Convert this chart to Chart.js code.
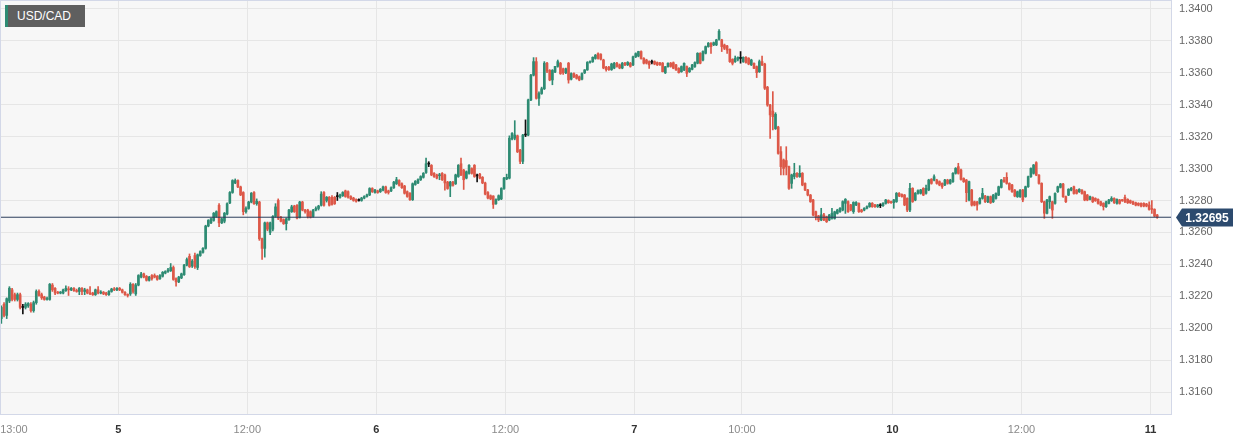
<!DOCTYPE html>
<html lang="en">
<head>
<meta charset="UTF-8">
<title>USD/CAD</title>
<style>
    body {
        margin: 0;
        background: #ffffff;
        font-family: Arial, 'Liberation Sans', sans-serif;
    }
    .wrap {
        position: relative;
        width: 1242px;
        height: 442px;
    }
    .pair {
        position: absolute;
        left: 5px;
        top: 5px;
        width: 80px;
        height: 22px;
        box-sizing: border-box;
        background: #5f5f5f;
        border-left: 3px solid #2e8b73;
        color: #ffffff;
        font-size: 12px;
        line-height: 22px;
        padding-left: 9px;
    }
</style>
</head>
<body>
<div class="wrap">
    <canvas id="chart" width="1242" height="442"></canvas>
    <div class="pair">USD/CAD</div>
</div>

<script src="https://cdn.jsdelivr.net/npm/chart.js"></script>
<script>
// 15 minute candles, prices in pips above 1.3000
const BASE = 1.3;

const opens = [
    206,215,208,217,224,221,218,221,213,213,            // 0
    214,215,211,216,223,221,219.5,218,218,227,
    225,222.5,222,222,223.5,224.5,224,225,223.5,223,
    225,223,224,222,222,221,224,222,222.5,222,
    221,223,224.5,224,225,224,222.5,221,221.5,227.5,
    221.5,227,232,234,232.5,230,233,233,232.5,231,
    232.5,234.5,235.5,236,238,231,229,231.5,233.5,239.5,
    245,239,245.5,238,245.5,247.5,250,264,266,267.5,
    270,277,266,267,271.5,278.5,285,291,292.5,288.5,
    285,273,275,279,285,278,279,256,250,266,            // 90
    260,262,270,280,269.5,268,265.5,268,273,276.5,
    277,269.5,279,274,274,273,270,274,275,277,
    285,280,282,282,282,282.4,282,283,286,285.5,
    282.5,281.5,280.5,280,280,281.5,282.5,283.5,287.5,285,
    286,285.5,286.5,288.5,286,286,288,290.5,292.5,290.5,
    289,285.5,284.5,280.5,290,291,293,294.5,297.5,302.8,
    302,297,296,295.5,297,296,291.5,289,291.5,290.5,
    295,303,299,294,297,300,302,295.4,
    296.5,294.5,291,285,283,282.8,278,280.5,281,287.5,  // 178
    293.5,294,318.5,319,320.5,311.5,304.5,321,321,343,
    358.5,367,344,347,350,366,361.5,355.5,360.5,364,
    366,362.5,360,366,356,359.5,358.5,357.5,356,360,
    361.8,366.5,367,369,372,371.5,368,363.5,363.5,362,
    363,366,365,363,366,365,366,365,370,370.5,
    373.3,369,368,367,366.6,367,366.4,366.2,366,360,
    363.8,366,366.3,364.9,362.8,360.7,361.8,363.9,360.7,362.2,
    363.9,366,372.2,368,372.2,376.4,378.5,377.5,377.5,381,
    380.6,377.4,376.8,374.7,368.4,367,368.4,369,367,369.7,  // 268
    369.1,365,365.9,363.9,360.7,367,365.5,351,339.8,336,
    325,326,310.6,305.4,305,301.2,290.7,295,297,295,
    297,290.7,286.6,283.4,280.3,273,270.3,267.8,271,269.8,
    267.8,268.8,268.8,271.9,273,274,278.2,279.3,277.2,273,
    277.2,278.2,274,274,275.1,276.1,278.2,277.2,276.1,276.7,
    276.7,278.2,280,279.3,278.6,279.3,284.5,283.8,283.4,281.3,
    274,287.6,280.3,284.5,284.5,287.6,284.5,286.6,293.3,292.8,
    292.8,291.8,290.7,289.7,292.8,290.7,291.8,297,301.2,299.1,
    293.8,292.8,280.3,286.5,279.2,279,278.2,281.3,282.8,279.2,  // 358
    282.4,279.2,281.3,283.4,288.2,292.8,294.5,290.7,289.7,286.5,
    282.4,282.4,286.5,282.4,288.6,294.9,297,303.7,295.9,290.7,
    279.2,272,279.2,279.2,278.2,285.5,288.2,290.3,282.4,283.4,
    286.5,288.6,286.5,285.5,286.5,285.5,283.4,280.7,281.9,281.3,
    280.7,279.2,278.2,276.1,278.2,279.9,281.3,278.2,280.3,280.3,
    281.9,280.7,279.9,279.2,278.6,278.2,278.2,278.2,277.8,277.1,
    275,274.4,270.9
];

const highs = [
    214,216,219,226,225,222,222,222,215,216,            // 0
    216,216,217,224,224,222,220,219.5,228,228,
    225.5,223,223,224.5,226.5,226,225.5,225.5,224.5,225.5,
    225.5,225,224.5,226,222.5,224.5,226,223.5,223,222.5,
    223.5,225,225.5,225.5,225.5,224.5,223,221.5,228.5,228,
    228,233.5,235,234.5,233,232.5,233.5,234,233,233.5,
    235.5,236,237.5,240.5,239,231.5,232.5,234.5,240,244,
    246.5,243,247,246.5,248.5,250.5,264.5,268,269,272.5,
    273.5,278,269,272.5,278.5,285.5,293,293.5,293,289,
    285.5,276,279.5,285,285.5,281,279.5,256.5,266.5,266.5,  // 90
    266.5,270.5,278,281,270,268.5,269,274.5,277,277,
    277.5,279.5,279.5,274.5,274.5,273.5,274.5,276,277,285.5,
    285.5,282.5,282.5,283,282.5,285,284,285.5,286.5,286,
    283,282,281,281,282,283,284,288,288,287,
    286.5,287.5,289,289,286.5,288.5,292,294.5,293,291,
    289.5,286,285,291,292.5,293.5,295.5,297.5,306.5,304.3,
    302.5,297.5,296.5,297,297.5,296.5,292,292,292,296.5,
    302.5,306.5,299.5,298.5,302.5,300.5,302.5,296.5,
    297,295,291.5,285.5,283.5,283,281,283.5,288,294.5,  // 178
    296.5,320.5,322.5,330,321,312,321.5,330.5,343.5,359,
    369.5,369.5,348,351,367,366.5,362,362,364,368,
    366.5,363,363,366.5,360,360,359,358,360,362,
    367,367.5,370,371.5,372.5,372,368.5,364,364,366,
    366.5,366.5,365.5,366.5,366.5,367,366.5,370.5,372.5,373.5,
    373.8,369.5,368.5,367.5,368,367.5,366.8,366.6,366.5,364,
    366.2,366.5,366.8,365.3,363.2,364.3,366.3,364.3,363.3,365.3,
    366.8,372.6,372.6,373.7,376.8,379,379,379.3,381,387,
    381,378,377.2,375,368.8,370.5,370,373.3,370,370.2,  // 268
    369.5,368.5,366.3,364.3,368,370.5,366,351.5,340.3,348.2,
    335,326.5,313.7,306,313.7,301.6,296.5,303.3,297.5,301.8,
    297.5,291.1,287,283.8,280.7,273.4,270.7,275.1,272,270.2,
    271.3,275.1,273.3,274.5,275.5,279.8,281.2,279.8,277.6,279.2,
    279.3,278.6,274.5,275.5,276.6,278.7,278.7,277.6,277.6,278,
    278.7,280.7,280.4,279.7,280.7,285,284.9,284.2,283.8,281.7,
    290.7,288,285,286.6,287,288,289.7,293.3,293.7,296,
    293.3,292.3,291.1,293.3,293.3,293.3,297.5,300.6,303.3,299.6,
    294.2,293.2,292.2,287,279.6,279.4,281.8,287.6,283.2,282.8,  // 358
    282.8,283.8,284.8,289,293.2,294.5,297.4,291.1,290.1,286.9,
    285.9,286.9,287,289,295.3,300.5,302.6,304.3,296.3,291.1,
    279.6,280.7,282.8,279.6,284.8,289,290.7,290.7,282.8,287.4,
    288.2,289,286.9,287.4,286.9,285.9,283.8,282.8,282.3,281.7,
    281.1,279.6,278.6,279.6,280.7,282.4,281.7,281.1,280.7,280.7,
    283.4,281.1,280.3,279.6,279,278.6,278.6,278.6,278.2,279.2,
    279.9,274.8,271.3
];

const lows = [
    203,207,206,216,217,217,217,212,209,212,            // 0
    213,210,210,215,220,218,217.5,217.5,217.5,223,
    221,221.5,221.5,221.5,223,220.5,223.5,223,222.5,221,
    221,221,221.5,221,220.5,220.5,221.5,221.5,221,220.5,
    220.5,222.5,223.5,223.5,223.5,222,220.5,219.5,220.5,222,
    220.5,226.5,231.5,231.5,229.5,229.5,230,231.5,230,230.5,
    232,234,235,235.5,230,226.3,228.5,231,233,239,
    238,238,237.5,236.7,245,247,249.5,263.5,265.5,267,
    269.5,263.6,265.5,266,271,278,284.5,290.5,288,283,
    271,272,274.5,278.5,277.5,277,255,243,244.5,261,    // 90
    258.5,261,269.5,268,266.5,265,261.5,267.5,272.5,272.5,
    268.5,269,273.5,272,269,269,269.5,273.5,274,276.5,
    276.5,279,276.5,277,277.5,280,281.5,282.5,282,281.5,
    280.5,279.5,279,279.5,279.5,281,282,283,285,284.5,
    284.5,285,286,284.5,284,285.5,287.5,290,289,287.5,
    284,282,280,280,289.5,290.5,292.5,294,297,301.2,
    295.5,294.5,293.5,293,292.5,286.5,287,282.4,289,290,
    294.5,295.5,286.9,293.5,296.5,296.5,294.5,291.7,
    293.5,290.5,283.5,281,280.5,275,277.5,280,280.5,287,  // 178
    293,293.5,318,318,310,303,303,320,320.5,342.5,
    358,343.5,339.5,346.5,349.5,360,355,352.5,360,363.5,
    359,359,359.5,353.5,355.5,357,356,355,355.5,359.5,
    361.5,366,366.5,368.5,368.5,368,362.5,361,361.5,361.5,
    362.5,363.5,362.5,362.5,364.5,364.5,363.5,364.5,369.5,370,
    368.5,365.5,365.5,362.8,365.5,365,364.5,364.6,360.5,359.5,
    363.5,363.5,362.5,361.5,359.8,360.3,361.3,357.6,360.2,361.8,
    363.4,365.6,365.6,367.5,371.8,376,372.2,377,377,380.5,
    373.3,374.5,372.2,366.5,364.9,366.5,367.5,366,366.5,366,  // 268
    365,364.5,362.5,357,360.2,364.5,349.5,339,318.9,324.2,
    324.5,309,296,296,296,287,287.6,293.5,294.5,294.5,
    289.2,286.1,282.9,278.8,270.4,267.8,266.7,267.3,267.3,266.2,
    267.3,268.3,268.3,271.5,272.5,273.5,271.9,272.5,273.5,271.9,
    276.8,272.5,272.5,273.5,274.7,275.7,275.7,275.6,275.6,275.5,
    276.2,277.7,278.2,278.2,275.1,278.8,282.4,282,276.7,273,
    273,278.8,279.8,284,284,283,284,286.1,290.2,292.3,
    290.2,289.2,287.6,289.2,290.2,290.2,291.3,296.5,296.5,292.7,
    291.3,279.2,279.8,276.5,276.6,274,277.7,280.8,278.7,278.7,  // 358
    278.1,278.7,280.8,283,287.8,291.3,290.2,286.5,285,282.3,
    281.9,281.9,279.2,282,288.2,294.5,296.5,295.5,290.2,278.7,
    268.8,271.5,275,268.8,277.7,285,287.8,281.9,278.7,283,
    286,284,284,285,284,279.8,279.8,280.3,278.7,279.4,
    277.7,276.6,274,275.6,277.8,279.4,278.1,277.7,277.7,279.4,
    278.7,278.1,278.1,277.3,276.6,276.6,276,276,276,273.9,
    271.9,269.8,268.8
];

const closes = [
    213,208,218.5,225,218,218,221,213,213,215,          // 0
    215.5,211,216,223,220.5,219,218,218.5,227.5,224,
    222,222,222.5,224,225,224,225,223.5,223,225,
    223,224,222,221.5,221,224,222,222.5,221.5,221,
    223,224.5,224,225,224,222.5,221,220.5,227.5,223,
    227,233,234,232,230,232,231,232,230.5,233,
    235,235.5,236.5,238,230.5,229,232,234,239.5,243,
    238.5,242,238.5,246,248,250,264,267.5,268.5,272,
    273,266,268.5,272,278,285,292.5,292.5,288.5,283.5,
    273,275,279,284.5,278,279.5,256,250,266,262,        // 90
    266,270,276,269,267,265.5,268.5,274,276,273,
    269,279,274,273,270,269.5,274,275,276.5,284,
    277,282,277,277.5,278,282.4,283.5,285,282.5,282,
    281,280,279.5,280,281.5,282.5,283.5,287.5,285.5,286.5,
    285,287,288.5,285,285,288,291.5,293,289.5,288,
    284.5,282.5,280.5,290.5,292,293,295,297,303,302.8,
    296,295,294,296,293,291,287.5,291.5,289.5,296,
    302,296,293,298,302,297,295,295.4,
    294,291,284,281.5,281,277.5,280.5,283,287.5,294,    // 178
    294.5,319,322,321,310.5,304.5,321,321,343,358.5,
    367,344,347,350,366,361,355.5,361.5,364,367,
    359.5,360,362.5,355.5,359.5,357.5,356.5,355.5,359.5,361.8,
    366.5,367,369.7,371,369,368.5,363,362,362,365.5,
    366,364,363,366,365,366.5,364,370,372,373.3,
    369,366,366,365,366.6,365.5,365,365,360.7,363.8,
    366,364,362.8,361.8,360.1,363.9,365.9,359.7,362.8,364.9,
    366.4,372.2,366,373.3,376.4,378.5,376.4,378.9,380.6,386,
    376.4,375.3,374.3,367,365.9,369.1,369.7,369,369.7,366.4,  // 268
    365.5,368,362.8,360.1,367,365,350.3,339.8,333.6,332.5,
    334,309.5,301.2,300.1,301,287.6,296,297,295,297,
    289.7,286.6,283.4,279.3,270.9,269.8,267.8,271,267.8,266.7,
    270.9,272,272.9,274,275.1,279.3,280.7,273,274,278.8,
    278.8,273,273,275.1,276.1,278.2,276.1,276.1,277.2,276.7,
    278.2,280.3,278.6,278.6,280.3,284.5,282.9,282.4,277.2,274,
    287.6,279.3,284.5,286.1,286.6,283.4,287.6,292.8,290.7,294.9,
    290.7,289.7,288.6,292.8,290.7,292.8,297,300.1,297,293.2,
    291.8,284.9,291.8,277.1,277.1,277.1,281.3,284.4,279.2,282.4,  // 358
    278.6,283.4,284.4,288.6,292.8,291.8,290.7,287,285.5,282.8,
    285.5,286.5,280.3,288.6,294.9,300.1,302.2,295.9,290.7,279.2,
    272,280.3,282.4,274,284.4,288.6,290.3,282.4,279.2,287,
    287.6,284.4,284.4,287,284.4,280.3,280.3,282.4,279.2,279.9,
    278.2,277.1,276.1,279.2,280.3,281.3,278.6,280.7,278.2,279.9,
    279.2,278.6,278.6,277.8,277.1,277.1,276.5,276.5,276.5,274.4,
    274.4,270.2,269.5
];

// time axis labels, placed on candle slots
const xTickPos = [4.7, 43.5, 91.5, 139.5, 187.5, 235.5, 275.5, 331.5, 379.5, 427.5];
const xTickText = ['13:00', '5', '12:00', '6', '12:00', '7', '10:00', '10', '12:00', '11'];
const yTicks = [1.3160, 1.3180, 1.3200, 1.3220, 1.3240, 1.3260, 1.3280, 1.3300, 1.3320, 1.3340, 1.3360, 1.3380, 1.3400];
const SLOTS = 436;

const UP = '#2e8b73';
const DOWN = '#dd5848';
const FLAT = '#111111';

const toPrice = p => BASE + p / 10000;
const lastPrice = toPrice(closes[closes.length - 1]);

function candleColor(i) {
    if (closes[i] > opens[i]) return UP;
    if (closes[i] < opens[i]) return DOWN;
    return FLAT;
}

// day labels are bold, hour labels are plain
const isDay = i => !String(xTickText[i] || ':').includes(':');

const wickData = lows.map((l, i) => ({ x: i, y: [toPrice(l), toPrice(highs[i])] }));
const bodyData = opens.map((o, i) => ({ x: i, y: [toPrice(o), toPrice(closes[i])] }));

const plotFrame = {
    id: 'plotFrame',
    beforeDraw(chart) {
        const { ctx, chartArea: a } = chart;
        ctx.save();
        ctx.fillStyle = '#f7f7f7';
        ctx.fillRect(a.left, a.top, a.right - a.left, a.bottom - a.top);
        ctx.restore();
    },
    afterDraw(chart) {
        const { ctx, chartArea: a } = chart;
        ctx.save();
        ctx.strokeStyle = '#d3d8e8';
        ctx.lineWidth = 1;
        ctx.strokeRect(a.left + 0.5, a.top + 0.5, a.right - a.left - 1, a.bottom - a.top - 1);

        // current price tag on the right axis
        const y = Math.round(chart.scales.y.getPixelForValue(lastPrice)) + 0.5;
        const x0 = a.right + 4;
        ctx.fillStyle = '#2c4a6e';
        ctx.beginPath();
        ctx.moveTo(x0, y);
        ctx.lineTo(x0 + 6, y - 9);
        ctx.lineTo(x0 + 57, y - 9);
        ctx.lineTo(x0 + 57, y + 9);
        ctx.lineTo(x0 + 6, y + 9);
        ctx.closePath();
        ctx.fill();
        ctx.fillStyle = '#ffffff';
        ctx.font = "bold 12px Arial, 'Liberation Sans', sans-serif";
        ctx.textAlign = 'center';
        ctx.textBaseline = 'middle';
        ctx.fillText(lastPrice.toFixed(5), x0 + 31, y + 1);
        ctx.restore();
    }
};

Chart.defaults.font.family = "Arial, 'Liberation Sans', sans-serif";

new Chart(document.getElementById('chart'), {
    type: 'bar',
    data: {
        datasets: [
            {
                type: 'line',
                data: [{ x: -0.5, y: lastPrice }, { x: SLOTS - 0.5, y: lastPrice }],
                borderColor: '#2b3d5a',
                borderWidth: 1,
                pointRadius: 0,
                order: 0
            },
            {
                data: bodyData,
                backgroundColor: ctx => candleColor(ctx.dataIndex),
                barThickness: 2,
                minBarLength: 1,
                grouped: false,
                order: 1
            },
            {
                data: wickData,
                backgroundColor: ctx => candleColor(ctx.dataIndex),
                barThickness: 1,
                minBarLength: 1,
                grouped: false,
                order: 2
            }
        ]
    },
    options: {
        responsive: false,
        animation: false,
        events: [],
        layout: { padding: 0 },
        plugins: {
            legend: { display: false },
            tooltip: { enabled: false }
        },
        scales: {
            x: {
                type: 'linear',
                min: -0.5,
                max: SLOTS - 0.5,
                offset: false,
                afterBuildTicks: axis => { axis.ticks = xTickPos.map(v => ({ value: v })); },
                afterFit: axis => { axis.height = 27; axis.paddingLeft = 0; axis.paddingRight = 0; },
                grid: {
                    offset: false,
                    color: ctx => (ctx.index === 0 ? 'rgba(0,0,0,0)' : '#e6e6e6'),
                    drawTicks: false
                },
                border: { display: false },
                ticks: {
                    autoSkip: false,
                    maxRotation: 0,
                    padding: 8,
                    callback: (value, index) => xTickText[index],
                    font: ctx => ({ size: 11, weight: isDay(ctx.index) ? 'bold' : 'normal' }),
                    color: ctx => (isDay(ctx.index) ? '#333333' : '#8a8a8a')
                }
            },
            y: {
                type: 'linear',
                position: 'right',
                min: 1.31456,
                max: 1.34056,
                afterBuildTicks: axis => { axis.ticks = yTicks.map(v => ({ value: v })); },
                afterFit: axis => { axis.width = 70; axis.paddingTop = 0; axis.paddingBottom = 0; },
                grid: { color: '#e6e6e6', drawTicks: false },
                border: { display: false },
                ticks: {
                    padding: 7,
                    font: { size: 11 },
                    color: '#666666',
                    callback: v => v.toFixed(4)
                }
            }
        }
    },
    plugins: [plotFrame]
});
</script>
</body>
</html>
